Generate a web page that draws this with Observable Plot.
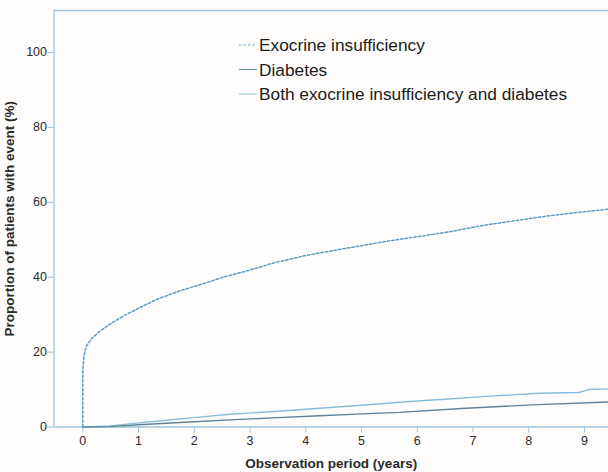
<!DOCTYPE html>
<html>
<head>
<meta charset="utf-8">
<script src="https://cdn.jsdelivr.net/npm/d3@7"></script>
<script src="https://cdn.jsdelivr.net/npm/@observablehq/plot@0.6"></script>
<style>
  html, body { margin: 0; padding: 0; background: #fffdfc; }
</style>
</head>
<body>
<div id="chart"></div>
<script>
// Series names (legend order)
const seriesNames = ["Exocrine insufficiency", "Diabetes", "Both exocrine insufficiency and diabetes"];

// Observation time (years) and cumulative proportion (%) per series
const exoYears  = [0, 0, 0.02, 0.06, 0.15, 0.3, 0.5, 0.75, 1.0, 1.33, 1.75, 2.17, 2.52, 3.0, 3.42, 4.0, 4.6, 5.0, 5.5, 6.0, 6.57, 7.17, 7.76, 8.36, 8.95, 9.45];
const exoValues = [0, 15, 19, 21.5, 23.5, 25.5, 27.6, 29.8, 31.7, 34.1, 36.4, 38.3, 40.0, 41.9, 43.8, 45.8, 47.4, 48.4, 49.7, 50.8, 52.1, 53.8, 55.1, 56.4, 57.4, 58.2];

const diabYears  = [0, 0.5, 1.0, 1.5, 2.0, 2.64, 3.5, 4.25, 5.0, 5.68, 6.87, 8.05, 9.45];
const diabValues = [0, 0.1, 0.6, 1.0, 1.4, 1.9, 2.5, 3.0, 3.5, 3.9, 5.0, 5.9, 6.7];

const bothYears  = [0, 0.5, 1.0, 1.5, 2.0, 2.64, 3.5, 4.25, 5.0, 5.86, 6.5, 7.17, 8.18, 8.9, 9.07, 9.45];
const bothValues = [0, 0.3, 1.1, 1.8, 2.5, 3.4, 4.2, 5.0, 5.8, 6.8, 7.4, 8.1, 9.0, 9.2, 10.0, 10.2];

// Axis ticks
const xTicks = [0, 1, 2, 3, 4, 5, 6, 7, 8, 9];
const yTicks = [0, 20, 40, 60, 80, 100];

const xLabel = "Observation period (years)";
const yLabel = "Proportion of patients with event (%)";

const toRows = (xs, ys) => xs.map((t, i) => ({t, v: ys[i]}));
const exo = toRows(exoYears, exoValues);
const diab = toRows(diabYears, diabValues);
const both = toRows(bothYears, bothValues);

const colors = ["#5c9cc2", "#5f8296", "#86bddb"];
const dashes = ["2.5,2", null, null];
const axisColor = "#9ec4da";

const xDomain = [-0.517, 9.43];
const yDomain = [0, 111.2];

function legend(index, scales, values, dimensions) {
  const g = d3.create("svg:g");
  const x0 = 239, x1 = 257, tx = 259;
  const rowsY = [45, 69.5, 94];
  seriesNames.forEach((name, i) => {
    g.append("line")
      .attr("x1", x0).attr("x2", x1)
      .attr("y1", rowsY[i]).attr("y2", rowsY[i])
      .attr("stroke", colors[i])
      .attr("stroke-width", 1.1)
      .attr("stroke-opacity", 0.85)
      .attr("stroke-dasharray", dashes[i]);
    g.append("text")
      .attr("x", tx).attr("y", rowsY[i])
      .attr("dy", "0.36em")
      .attr("text-anchor", "start")
      .attr("fill", "#1a1a1a")
      .style("font-size", "17.3px")
      .text(name);
  });
  return g.node();
}

const chart = Plot.plot({
  width: 608,
  height: 472,
  marginLeft: 53.5,
  marginRight: 0,
  marginTop: 10,
  marginBottom: 45.5,
  style: {fontFamily: "'Liberation Sans', Arial, sans-serif", fontSize: "12.5px", background: "#fffdfc", color: "#2a2a2a"},
  x: {domain: xDomain},
  y: {domain: yDomain},
  marks: [
    Plot.ruleX([xDomain[0]], {stroke: axisColor, strokeWidth: 1.3}),
    Plot.ruleY([yDomain[1]], {stroke: axisColor, strokeWidth: 1.3}),
    Plot.ruleY([0], {stroke: axisColor, strokeWidth: 1.3}),
    Plot.axisY({ticks: yTicks, tickSize: 6, tickPadding: 1, stroke: axisColor, label: null, fontSize: 12.5}),
    Plot.axisY({ticks: [], label: yLabel, labelAnchor: "center", labelArrow: "none", labelOffset: 50, fontWeight: "bold", fontSize: 13.5}),
    Plot.axisX({ticks: xTicks, tickSize: 6, tickPadding: 3, stroke: axisColor, label: null, fontSize: 12.5}),
    Plot.axisX({ticks: [], label: xLabel, labelAnchor: "center", labelArrow: "none", labelOffset: 41, fontWeight: "bold", fontSize: 13.5}),
    Plot.line(both, {x: "t", y: "v", stroke: colors[2], strokeWidth: 1.4, curve: "linear"}),
    Plot.line(diab, {x: "t", y: "v", stroke: colors[1], strokeWidth: 1.4, curve: "linear"}),
    Plot.line(exo, {x: "t", y: "v", stroke: colors[0], strokeWidth: 1.5, strokeDasharray: dashes[0], curve: "linear"}),
    legend
  ]
});

document.getElementById("chart").appendChild(chart);
</script>
</body>
</html>
